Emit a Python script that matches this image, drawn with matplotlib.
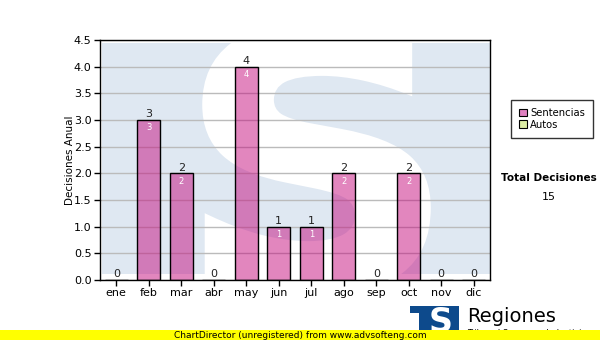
import matplotlib
matplotlib.use("Agg")
import matplotlib.pyplot as plt
from matplotlib.patches import Rectangle, PathPatch, Patch
from matplotlib.textpath import TextPath
from matplotlib.font_manager import FontProperties
from matplotlib.transforms import Affine2D

months = ["ene", "feb", "mar", "abr", "may", "jun", "jul", "ago", "sep", "oct", "nov", "dic"]
sentencias = [0, 3, 2, 0, 4, 1, 1, 2, 0, 2, 0, 0]
yticks = [0.0, 0.5, 1.0, 1.5, 2.0, 2.5, 3.0, 3.5, 4.0, 4.5]
total = 15

W, H = 600, 340
fig = plt.figure(figsize=(6, 3.4), dpi=100)
fig.patch.set_facecolor("white")

def fx(px):
    return px / W

def fy(py):
    return 1 - py / H

ax = fig.add_axes([fx(100), fy(280), 390 / W, 240 / H])

# background watermark
bg = Rectangle((0.005, 0.025), 0.995, 0.9625, transform=ax.transAxes,
               facecolor="#DFE8F2", edgecolor="none", zorder=0.1)
ax.add_patch(bg)
tp = TextPath((0, 0), "S", size=1, prop=FontProperties(family="DejaVu Sans", weight="bold"))
ext = tp.get_extents()
x0, x1 = fx(205), fx(428)
y0, y1 = fy(292), fy(25)
tr = Affine2D().translate(-ext.x0, -ext.y0).scale((x1 - x0) / ext.width, (y1 - y0) / ext.height).translate(x0, y0)
spath = tr.transform_path(tp)
sp = PathPatch(spath, transform=fig.transFigure, facecolor="white", edgecolor="white",
               linewidth=4, zorder=0.2)
ax.add_patch(sp)
sp.set_clip_path(bg)

x = list(range(len(months)))
bars = ax.bar(x, sentencias, width=0.72, color=(196 / 255, 8 / 255, 124 / 255, 0.49),
              edgecolor="black", linewidth=1, zorder=2)

for i, v in enumerate(sentencias):
    ax.annotate(str(v), (i, v), xytext=(0, 0.5), textcoords="offset points",
                ha="center", va="bottom", fontsize=8, color="#222222", zorder=3)
    if v > 0:
        ax.annotate(str(v), (i, v), xytext=(0, -2.5), textcoords="offset points",
                    ha="center", va="top", fontsize=6, color="white", zorder=3)

ax.set_xlim(-0.5, 11.5)
ax.set_ylim(0, 4.5)
ax.set_xticks(x)
ax.set_xticklabels(months, fontsize=8)
ax.set_yticks(yticks)
ax.set_yticklabels([f"{t:.1f}" for t in yticks], fontsize=8)
ax.tick_params(axis="both", direction="out", length=4, width=1, color="black", pad=2)
ax.yaxis.grid(True, color="#BBBBBB", linewidth=1)
ax.set_axisbelow(True)
for s in ax.spines.values():
    s.set_color("black")
    s.set_linewidth(1)
ax.set_facecolor("white")
ax.set_ylabel("Decisiones Anual", fontsize=7.5, labelpad=-1)

# legend
handles = [Patch(facecolor="#E080C0", edgecolor="black", linewidth=0.8, label="Sentencias"),
           Patch(facecolor="#DCEDA4", edgecolor="black", linewidth=0.8, label="Autos")]
leg = fig.legend(handles=handles, loc="upper left", bbox_to_anchor=(fx(511), fy(100)),
                 fontsize=7.2, frameon=True, fancybox=False, handlelength=0.8,
                 handleheight=0.8, handletextpad=0.3, borderpad=0.8, labelspacing=0.15,
                 borderaxespad=0)
leg.get_frame().set_edgecolor("black")
leg.get_frame().set_linewidth(1)

fig.text(fx(549), fy(178), "Total Decisiones", fontsize=7.5, weight="bold", ha="center", va="center")
fig.text(fx(549), fy(197), str(total), fontsize=8, ha="center", va="center")

# logo
fig.patches.append(Rectangle((fx(410), 0), (459 - 410) / W, (340 - 306) / H,
                             transform=fig.transFigure, facecolor="#0D4A8C", edgecolor="none", zorder=1))
fig.patches.append(Rectangle((fx(410), 0), (419 - 410) / W, (340 - 313) / H,
                             transform=fig.transFigure, facecolor="white", edgecolor="none", zorder=1.1))
fig.text(fx(441), fy(322), "S", fontsize=24, weight="bold", color="white", ha="center", va="center", zorder=1.2)
fig.text(fx(467), fy(316), "Regiones", fontsize=14, ha="left", va="center", zorder=1.2)
fig.text(fx(467), fy(333), "Tribunal Supremo de Justicia", fontsize=6, ha="left", va="center", zorder=1.2)

# footer bar
fig.patches.append(Rectangle((0, 0), 1, 10 / H, transform=fig.transFigure,
                             facecolor="#FFFF00", edgecolor="none", zorder=5))
fig.text(0.5, 5 / H, "ChartDirector (unregistered) from www.advsofteng.com", fontsize=6.5,
         ha="center", va="center", zorder=6)

fig.savefig("out.png", dpi=100)
